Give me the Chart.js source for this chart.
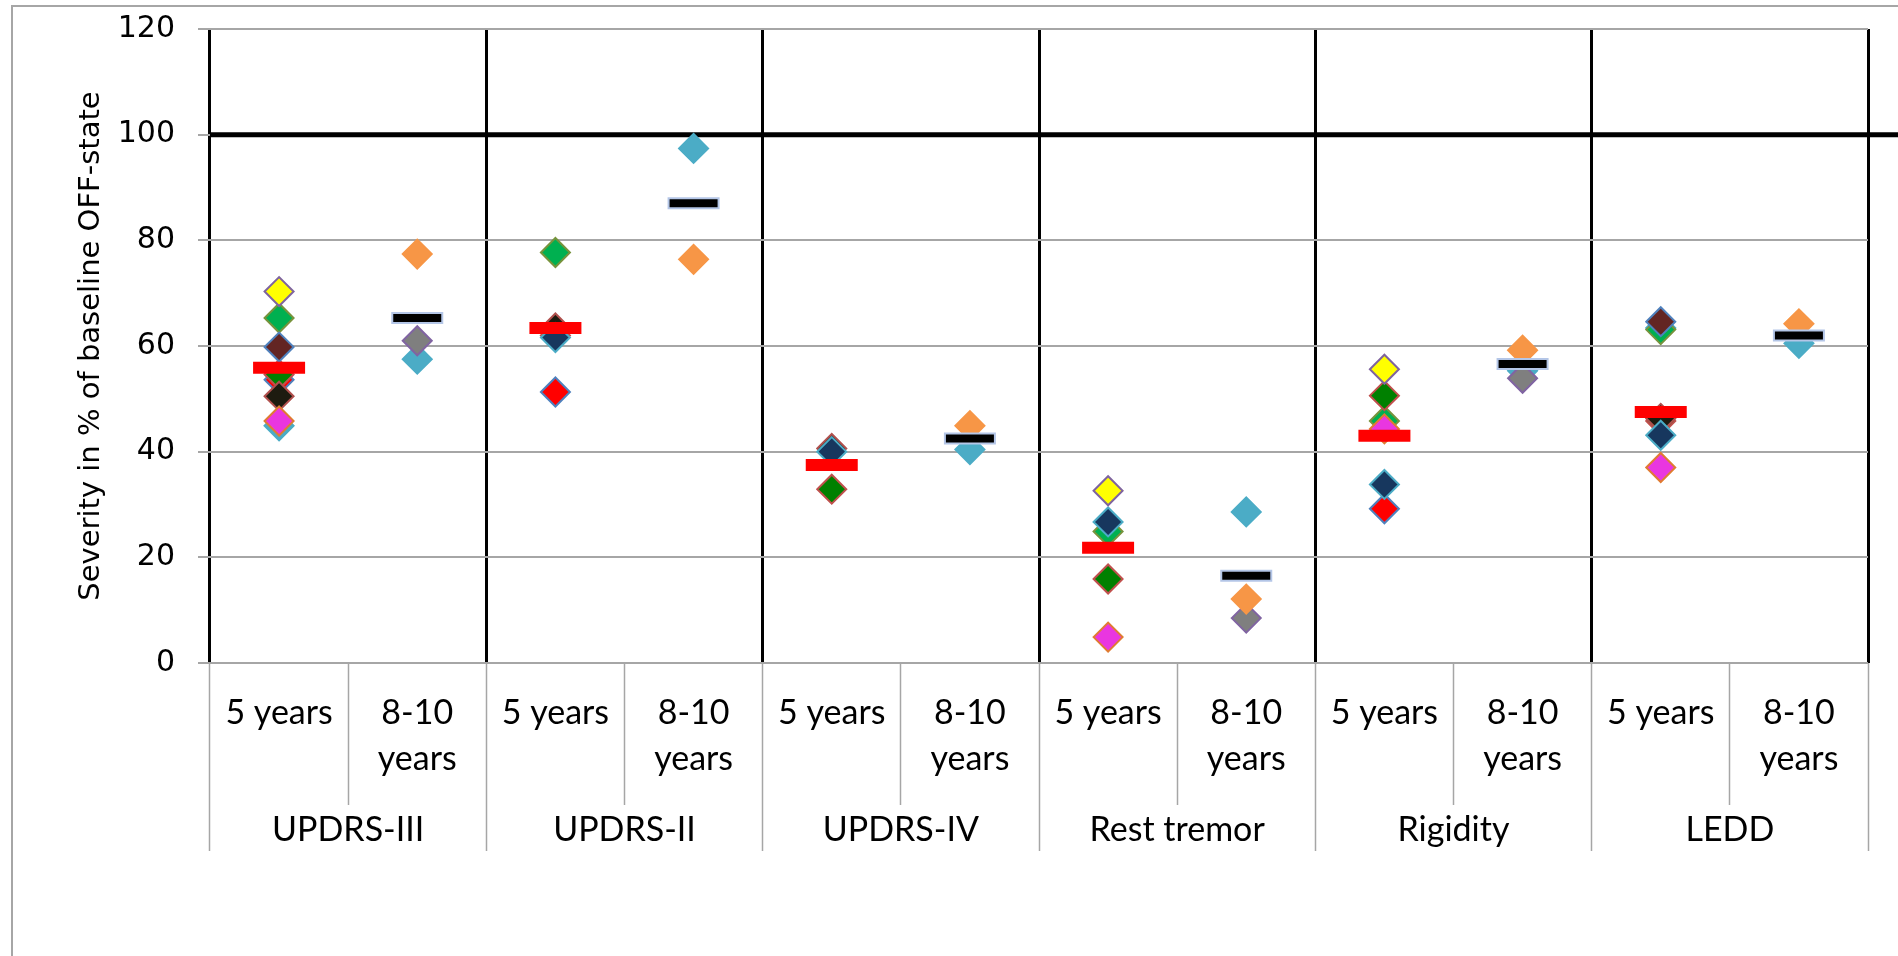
<!DOCTYPE html>
<html>
<head>
<meta charset="utf-8">
<script src="https://cdn.jsdelivr.net/npm/chart.js@4.4.1/dist/chart.umd.min.js"></script>
<style>
    html, body { margin: 0; padding: 0; background: #fff; overflow: hidden; }
    #moldura { position: absolute; left: 11px; top: 5px; width: 2000px; height: 1100px; border: 2px solid #a6a6a6; }
    #grafico { position: absolute; left: 0; top: 0; }
</style>
</head>
<body>
<div id="moldura"></div>
<canvas id="grafico" width="1898" height="956"></canvas>
<script>
// categorias: dois periodos de seguimento por escala
const grupos = ["UPDRS-III", "UPDRS-II", "UPDRS-IV", "Rest tremor", "Rigidity", "LEDD"];
const categorias = [
    ["5 years"], ["8-10", "years"],
    ["5 years"], ["8-10", "years"],
    ["5 years"], ["8-10", "years"],
    ["5 years"], ["8-10", "years"],
    ["5 years"], ["8-10", "years"],
    ["5 years"], ["8-10", "years"]
];
const eixoY = { min: 0, max: 120, passo: 20 };
const linhaBase = 100;

// valores por estudo, na ordem das categorias acima (null = sem dado)
const estudoAzulClaro = [44.9, 57.5, null, 97.4, null, 40.4, null, 28.6, null, 55.3, 63.4, 60.5];
const estudoVerde     = [65.3, null, 77.7, null, null, null, 24.9, null, 45.8, null, 63.1, null];
const estudoVermelho  = [53.6, null, 51.3, null, null, null, null, null, 29.2, null, null, null];
const estudoVerdeEsc  = [54.6, null, 62.0, null, 32.9, null, 15.9, null, 50.6, null, 45.8, null];
const estudoPreto     = [50.5, null, 63.4, null, 40.6, null, null, null, null, null, 46.3, null];
const estudoMarinho   = [null, null, 61.6, null, 40.0, null, 26.7, null, 33.8, null, 43.1, null];
const estudoCinza     = [null, 61.0, null, null, null, null, null,  8.5, null, 53.9, null, null];
const estudoLaranja   = [null, 77.4, null, 76.4, null, 44.9, null, 12.1, null, 59.2, null, 64.2];
const estudoMarrom    = [59.8, null, null, null, null, null, null, null, null, null, 64.6, null];
const estudoAmarelo   = [70.3, null, null, null, null, null, 32.6, null, 55.6, null, null, null];
const estudoMagenta   = [45.8, null, null, null, null, null,  4.9, null, 44.3, null, 37.0, null];

// medias por grupo
const media5anos = [55.9, 63.4, 37.5, 21.8, 43.0, 47.5];
const media810anos = [65.3, 87.0, 42.5, 16.5, 56.6, 62.0];

const em5anos = valores => valores.flatMap(v => [v, null]);
const em810anos = valores => valores.flatMap(v => [null, v]);

// do fundo para a frente
const estudos = [
    [estudoAzulClaro, "#4bacc6", "#4bacc6"],
    [estudoVerde, "#00b050", "#77933c"],
    [estudoVermelho, "#ff0000", "#4f81bd"],
    [estudoVerdeEsc, "#008000", "#c0504d"],
    [estudoPreto, "#1d1b10", "#b0504d"],
    [estudoMarinho, "#17375e", "#4bacc6"],
    [estudoCinza, "#7f7f7f", "#8064a2"],
    [estudoLaranja, "#f79646", "#f79646"],
    [estudoMarrom, "#632523", "#4f81bd"],
    [estudoAmarelo, "#ffff00", "#7f649f"],
    [estudoMagenta, "#e936e0", "#e07b32"]
];

const datasets = estudos.map(([valores, cor, borda], i) => ({
    data: valores,
    showLine: false,
    pointStyle: "rectRot",
    pointRadius: 14.5,
    pointBorderWidth: 2,
    pointBackgroundColor: cor,
    pointBorderColor: borda,
    order: 100 - i
}));

datasets.push({
    data: em5anos(media5anos),
    showLine: false,
    pointStyle: "line",
    pointRadius: 26,
    pointBorderWidth: 12,
    pointBorderColor: "#ff0000",
    order: 0
});
datasets.push({
    data: em810anos(media810anos),
    showLine: false,
    pointStyle: "line",
    pointRadius: 26,
    pointBorderWidth: 12,
    pointBorderColor: "#b4c6e7",
    order: 1
});
datasets.push({
    data: em810anos(media810anos),
    showLine: false,
    pointStyle: "line",
    pointRadius: 24,
    pointBorderWidth: 8,
    pointBorderColor: "#000000",
    order: 0
});

// linha de referencia em 100% (estado OFF basal)
const linhaReferencia = {
    id: "linhaReferencia",
    beforeDatasetsDraw(chart) {
        const { ctx, chartArea, scales } = chart;
        const py = scales.y.getPixelForValue(linhaBase);
        ctx.save();
        ctx.strokeStyle = "#000";
        ctx.lineWidth = 5;
        ctx.beginPath();
        ctx.moveTo(chartArea.left, py);
        ctx.lineTo(chart.width, py);
        ctx.stroke();
        ctx.restore();
    }
};

const fonteCategoria = { family: "Lato", size: 34, lineHeight: "46px" };

new Chart(document.getElementById("grafico").getContext("2d"), {
    type: "line",
    data: { labels: categorias, datasets },
    options: {
        responsive: false,
        animation: false,
        layout: { autoPadding: false, padding: { top: 29, right: 30, left: 0, bottom: 0 } },
        plugins: { legend: { display: false }, tooltip: { enabled: false } },
        scales: {
            x: {
                type: "category",
                position: "bottom",
                offset: true,
                weight: 0,
                grid: { offset: true, drawOnChartArea: false, tickColor: "#a6a6a6", tickWidth: 1.5, tickLength: 142 },
                border: { display: false },
                ticks: { font: fonteCategoria, color: "#000", padding: -115, maxRotation: 0, autoSkip: false },
                afterFit: s => { s.height = 142; }
            },
            x2: {
                type: "category",
                labels: grupos,
                position: "bottom",
                offset: true,
                weight: 1,
                grid: { offset: true, drawOnChartArea: true, color: "#000", lineWidth: 3, tickColor: "#a6a6a6", tickWidth: 1.5, tickLength: 46 },
                border: { display: false },
                ticks: { font: fonteCategoria, color: "#000", padding: -44, maxRotation: 0, autoSkip: false },
                afterFit: s => { s.height = 151; }
            },
            y: {
                min: eixoY.min,
                max: eixoY.max,
                ticks: { stepSize: eixoY.passo, font: { family: "DejaVu Sans", size: 30 }, color: "#000", padding: 23 },
                grid: { color: "#a6a6a6", lineWidth: 2, tickLength: 12 },
                border: { display: false },
                title: {
                    display: true,
                    text: "Severity in % of baseline OFF-state",
                    font: { family: "DejaVu Sans", size: 29 },
                    color: "#000",
                    padding: { top: 74, bottom: 0 }
                },
                afterFit: s => {
                    s.width = 210;
                    s.paddingTop = 0;
                    s.paddingBottom = 0;
                }
            }
        }
    },
    plugins: [linhaReferencia]
});
</script>
</body>
</html>
